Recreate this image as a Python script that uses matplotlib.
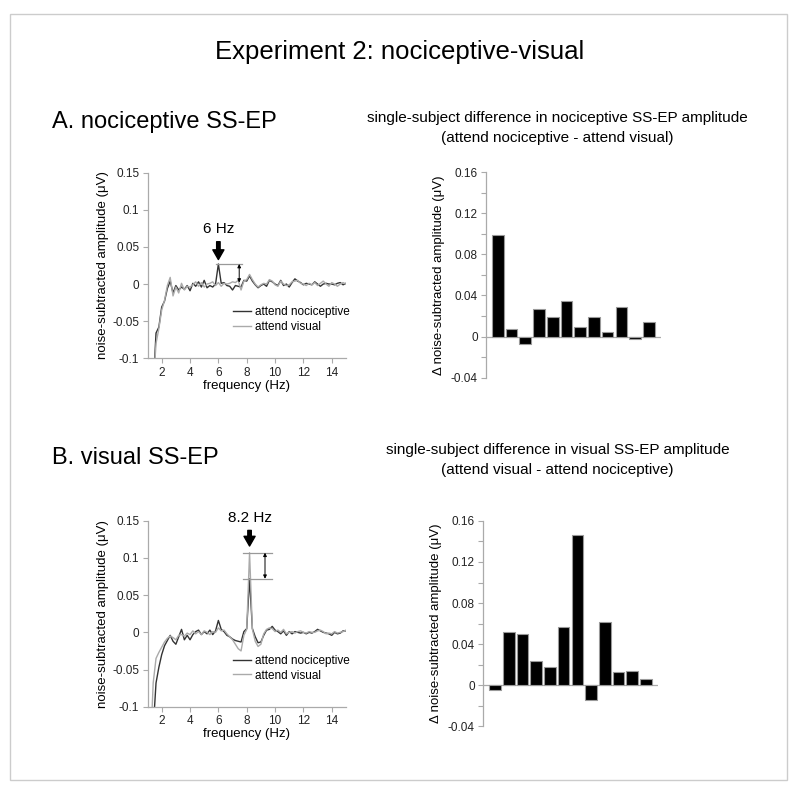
import numpy as np
import matplotlib
matplotlib.use("Agg")
import matplotlib.pyplot as plt
from matplotlib.patches import Rectangle

plt.rcParams['font.family'] = ['Liberation Sans', 'DejaVu Sans']

# frequency grid (Hz)
freq = np.round(np.arange(1.2, 15.01, 0.2), 1)

# A. nociceptive SS-EP spectra
a_noci = [-0.20, -0.14, -0.066, -0.058, -0.031, -0.023, -0.006, 0.004, -0.012, -0.002,
          -0.008, -0.004, -0.007, -0.002, -0.009, 0.001, -0.003, 0.003, -0.004, 0.005,
          -0.005, -0.002, -0.004, 0.000, 0.027, 0.001, 0.002, -0.002, -0.003, -0.008,
          -0.002, -0.003, -0.004, 0.005, 0.004, 0.011, 0.004, -0.001, -0.005, -0.002,
          0.000, -0.003, 0.005, 0.003, 0.000, -0.002, 0.005, -0.002, 0.000, -0.004,
          0.002, 0.007, 0.004, 0.002, -0.001, 0.001, 0.000, -0.001, 0.003, 0.000,
          -0.003, 0.000, 0.001, 0.000, 0.000, -0.001, 0.001, 0.002, -0.001, 0.001]
a_vis = [-0.20, -0.14, -0.080, -0.060, -0.035, -0.022, -0.002, 0.009, -0.016, -0.004,
         -0.012, 0.001, -0.008, -0.003, -0.004, -0.001, 0.003, -0.003, 0.002, -0.004,
         0.000, 0.001, 0.003, -0.002, 0.002, -0.003, 0.001, 0.000, 0.001, 0.003,
         0.002, 0.005, -0.008, 0.004, 0.006, 0.013, 0.006, 0.000, -0.004, -0.001,
         0.001, 0.000, 0.006, 0.004, -0.001, -0.003, 0.004, 0.000, -0.002, -0.001,
         0.003, 0.004, 0.005, 0.001, 0.000, -0.002, 0.001, -0.001, 0.002, -0.002,
         0.001, 0.004, 0.000, -0.003, 0.002, 0.000, -0.003, 0.000, 0.002, 0.000]

# B. visual SS-EP spectra
b_noci = [-0.20, -0.13, -0.068, -0.047, -0.030, -0.018, -0.011, -0.004, -0.012, -0.016,
          -0.006, 0.004, -0.010, -0.004, -0.010, -0.003, 0.001, 0.003, -0.003, 0.001,
          -0.002, 0.003, -0.003, 0.002, 0.016, 0.004, 0.001, -0.004, -0.006, -0.009,
          -0.011, -0.012, -0.013, 0.001, 0.005, 0.072, 0.005, -0.006, -0.014, -0.013,
          -0.004, 0.003, 0.004, 0.008, 0.003, 0.001, -0.002, 0.002, -0.004, 0.001,
          -0.002, 0.001, 0.000, -0.001, 0.000, -0.002, 0.000, -0.001, 0.001, 0.004,
          0.002, 0.000, -0.001, -0.002, -0.004, 0.000, -0.002, -0.001, 0.002, 0.002]
b_vis = [-0.16, -0.068, -0.035, -0.027, -0.020, -0.013, -0.008, -0.005, -0.007, -0.010,
         -0.004, -0.003, -0.005, -0.001, -0.003, 0.002, -0.002, 0.001, -0.003, 0.002,
         0.000, -0.003, 0.001, 0.000, 0.006, 0.002, 0.003, -0.002, -0.006, -0.010,
         -0.016, -0.022, -0.025, -0.004, 0.004, 0.107, 0.004, -0.012, -0.019, -0.016,
         -0.002, 0.004, 0.006, 0.005, 0.001, 0.003, 0.000, 0.004, -0.002, 0.000,
         0.001, -0.001, 0.001, 0.002, 0.000, -0.001, 0.001, 0.000, 0.000, 0.002,
         0.003, 0.001, -0.002, -0.001, -0.002, 0.001, -0.001, 0.000, 0.001, 0.003]

# single-subject differences
subjects = np.arange(1, 13)
diff_noci = [0.0985, 0.0078, -0.0074, 0.0266, 0.0191, 0.0350,
             0.0091, 0.0191, 0.0045, 0.0288, -0.0025, 0.0140]
diff_vis = [-0.0045, 0.0518, 0.0502, 0.0236, 0.0175, 0.0564,
            0.1464, -0.0142, 0.0615, 0.0126, 0.0142, 0.0060]

DARK = '#333333'
LIGHT = '#aaaaaa'
SPINE = '#aaaaaa'
ylab = 'noise-subtracted amplitude (\u03bcV)'

fig = plt.figure(figsize=(8, 7.95), dpi=100)
fig.patches.append(Rectangle((10 / 800, 1 - 780 / 795), 777 / 800, 766 / 795,
                             transform=fig.transFigure, fill=False,
                             edgecolor='#cccccc', lw=1))

fig.text(0.5, 0.9346, 'Experiment 2: nociceptive-visual', ha='center', va='center',
         fontsize=18.5)
fig.text(0.065, 0.8465, 'A. nociceptive SS-EP', ha='left', va='center', fontsize=17)
fig.text(0.065, 0.4239, 'B. visual SS-EP', ha='left', va='center', fontsize=17)
fig.text(0.697, 0.8516, 'single-subject difference in nociceptive SS-EP amplitude',
         ha='center', va='center', fontsize=11)
fig.text(0.697, 0.8264, '(attend nociceptive - attend visual)',
         ha='center', va='center', fontsize=11)
fig.text(0.697, 0.4340, 'single-subject difference in visual SS-EP amplitude',
         ha='center', va='center', fontsize=11)
fig.text(0.697, 0.4088, '(attend visual - attend nociceptive)',
         ha='center', va='center', fontsize=11)


def style_axes(ax):
    for s in ['top', 'right']:
        ax.spines[s].set_visible(False)
    for s in ['left', 'bottom']:
        ax.spines[s].set_color(SPINE)
        ax.spines[s].set_linewidth(0.9)
    ax.tick_params(colors=SPINE, labelcolor='#222222', labelsize=8.5, length=3.5,
                   width=0.8, pad=2.5)
    ax.tick_params(which='minor', colors=SPINE, length=3.5, width=0.8)


def spectrum(ax, noci, vis, peak_idx):
    ax.plot(freq, noci, color=DARK, lw=1.0, label='attend nociceptive')
    ax.plot(freq, vis, color=LIGHT, lw=1.0, label='attend visual')
    ax.set_xlim(1, 15)
    ax.set_ylim(-0.1, 0.15)
    ax.set_xticks([2, 4, 6, 8, 10, 12, 14])
    ax.set_yticks([-0.1, -0.05, 0, 0.05, 0.1, 0.15])
    ax.set_yticklabels(['-0.1', '-0.05', '0', '0.05', '0.1', '0.15'])
    ax.set_xlabel('frequency (Hz)', fontsize=9.5, labelpad=1)
    ax.set_ylabel(ylab, fontsize=9.5, labelpad=2)
    style_axes(ax)
    ax.legend(frameon=False, loc='upper left', bbox_to_anchor=(0.43, 0.28),
              borderpad=0, borderaxespad=0, handlelength=1.55,
              handletextpad=0.3, labelspacing=0.25, fontsize=8.5)
    hi = max(noci[peak_idx], vis[peak_idx])
    lo = min(noci[peak_idx], vis[peak_idx])
    return hi, lo


ax1 = fig.add_axes([0.1844, 0.5493, 0.248, 0.2335])
hi, lo = spectrum(ax1, a_noci, a_vis, 24)
ax1.plot([5.85, 7.65], [hi, hi], color='#999999', lw=0.9)
ax1.annotate('', xy=(7.47, lo), xytext=(7.47, hi),
             arrowprops=dict(arrowstyle='<|-|>', lw=0.7, color='k', mutation_scale=5,
                             shrinkA=0, shrinkB=0))
ax1.annotate('', xy=(6.0, 0.033), xytext=(6.0, 0.057),
             arrowprops=dict(width=2.5, headwidth=8, headlength=7, color='k'))
ax1.text(6.0, 0.074, '6 Hz', ha='center', va='center', fontsize=11)

ax3 = fig.add_axes([0.1844, 0.111, 0.248, 0.234])
hi, lo = spectrum(ax3, b_noci, b_vis, 35)
ax3.plot([7.76, 9.76], [hi, hi], color='#999999', lw=0.9)
ax3.plot([7.76, 9.76], [lo, lo], color='#999999', lw=0.9)
ax3.annotate('', xy=(9.29, lo), xytext=(9.29, hi),
             arrowprops=dict(arrowstyle='<|-|>', lw=0.7, color='k', mutation_scale=5,
                             shrinkA=0, shrinkB=0))
ax3.annotate('', xy=(8.2, 0.116), xytext=(8.2, 0.137),
             arrowprops=dict(width=2.5, headwidth=8, headlength=7, color='k'))
ax3.text(8.2, 0.153, '8.2 Hz', ha='center', va='center', fontsize=11)


def bars(ax, vals):
    ax.bar(subjects, vals, width=0.85, color='black', edgecolor='#999999', lw=0.8,
           zorder=2)
    ax.set_xlim(0.14, 12.9)
    ax.set_ylim(-0.04, 0.16)
    ax.axhline(0, color=SPINE, lw=0.9, zorder=1)
    ax.set_yticks([-0.04, 0, 0.04, 0.08, 0.12, 0.16])
    ax.set_yticklabels(['-0.04', '0', '0.04', '0.08', '0.12', '0.16'])
    ax.set_yticks(np.arange(-0.04, 0.161, 0.02), minor=True)
    ax.set_xticks([])
    style_axes(ax)
    ax.spines['bottom'].set_visible(False)
    ax.set_ylabel('\u0394 ' + ylab, fontsize=9.5, labelpad=4)


ax2 = fig.add_axes([0.6075, 0.5249, 0.219, 0.2587])
bars(ax2, diff_noci)
ax4 = fig.add_axes([0.604, 0.0862, 0.219, 0.2587])
bars(ax4, diff_vis)

fig.savefig('out.png', dpi=100)
